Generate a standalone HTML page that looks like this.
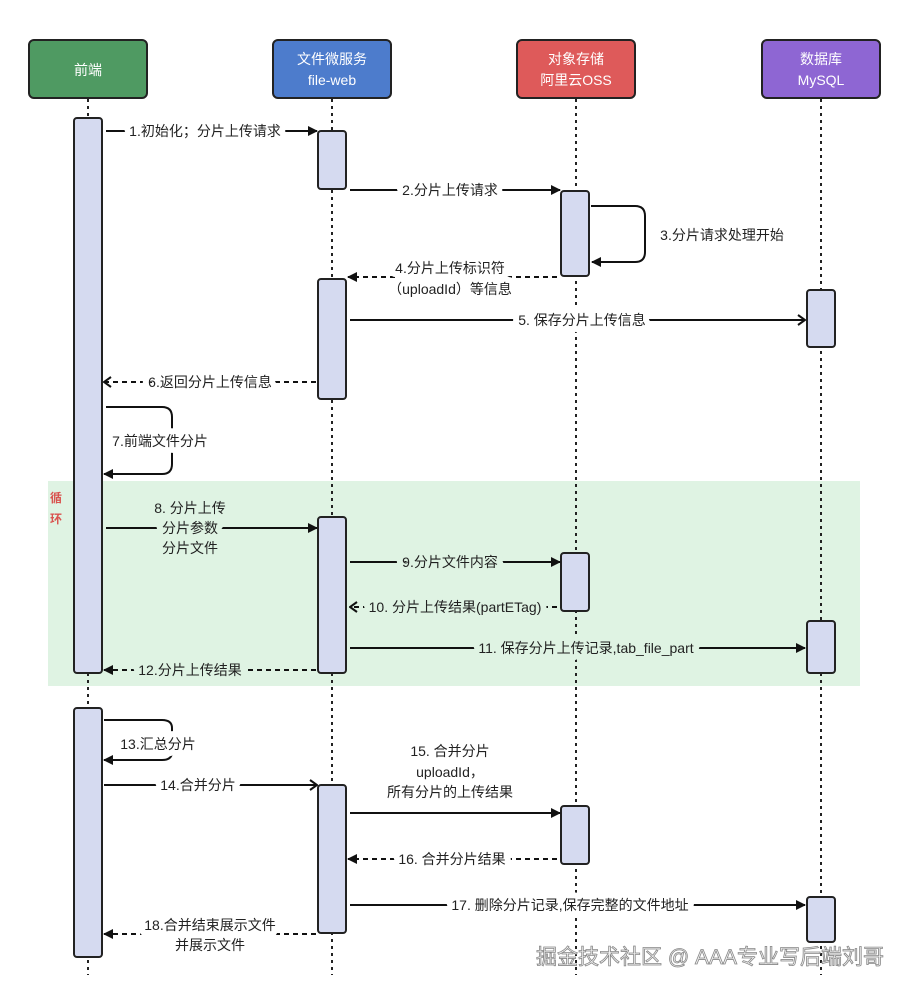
<!DOCTYPE html>
<html><head><meta charset="utf-8"><style>
html,body{margin:0;padding:0;background:#fff;}
svg{display:block;}
text{font-family:"Liberation Sans","Noto Sans CJK SC",sans-serif;font-size:14px;fill:#222;}
.lb{paint-order:stroke;stroke:#fff;stroke-width:12px;stroke-linejoin:round;}
.lg{paint-order:stroke;stroke:#dff3e3;stroke-width:12px;stroke-linejoin:round;}
.hd{fill:#fff;font-size:14px;}
</style></head><body>
<svg width="920" height="993" viewBox="0 0 920 993" xmlns="http://www.w3.org/2000/svg">
<defs>
<marker id="a" markerWidth="10" markerHeight="10" refX="9" refY="5" orient="auto" markerUnits="userSpaceOnUse"><path d="M0,0 L10,5 L0,10 Z" fill="#111"/></marker>
<marker id="o" markerWidth="10" markerHeight="12" refX="9" refY="6" orient="auto" markerUnits="userSpaceOnUse"><path d="M2,1 L9,6 L2,11" fill="none" stroke="#111" stroke-width="2"/></marker>
</defs>
<rect x="48" y="481" width="812" height="205" fill="#dff3e3"/>
<text x="50" y="502" style="fill:#d9534f;font-weight:bold;font-size:12px">循</text>
<text x="50" y="523" style="fill:#d9534f;font-weight:bold;font-size:12px">环</text>
<g stroke="#222" stroke-width="2" stroke-dasharray="3 4">
<line x1="88" y1="99" x2="88" y2="975"/><line x1="332" y1="99" x2="332" y2="975"/>
<line x1="576" y1="99" x2="576" y2="975"/><line x1="821" y1="99" x2="821" y2="975"/>
</g>
<g stroke="#222" stroke-width="2">
<rect x="29" y="40" width="118" height="58" rx="5" fill="#4f9a62"/>
<rect x="273" y="40" width="118" height="58" rx="5" fill="#4d7ccc"/>
<rect x="517" y="40" width="118" height="58" rx="5" fill="#de5a5a"/>
<rect x="762" y="40" width="118" height="58" rx="5" fill="#8e66d3"/>
</g>
<text class="hd" x="88" y="75" text-anchor="middle">前端</text>
<text class="hd" x="332" y="64" text-anchor="middle">文件微服务</text>
<text class="hd" x="332" y="85" text-anchor="middle">file-web</text>
<text class="hd" x="576" y="64" text-anchor="middle">对象存储</text>
<text class="hd" x="576" y="85" text-anchor="middle">阿里云OSS</text>
<text class="hd" x="821" y="64" text-anchor="middle">数据库</text>
<text class="hd" x="821" y="85" text-anchor="middle">MySQL</text>
<g stroke="#222" stroke-width="2" fill="#d5daf0">
<rect x="74" y="118" width="28" height="555" rx="3"/>
<rect x="74" y="708" width="28" height="249" rx="3"/>
<rect x="318" y="131" width="28" height="58" rx="3"/>
<rect x="318" y="279" width="28" height="120" rx="3"/>
<rect x="318" y="517" width="28" height="156" rx="3"/>
<rect x="318" y="785" width="28" height="148" rx="3"/>
<rect x="561" y="191" width="28" height="85" rx="3"/>
<rect x="561" y="553" width="28" height="58" rx="3"/>
<rect x="561" y="806" width="28" height="58" rx="3"/>
<rect x="807" y="290" width="28" height="57" rx="3"/>
<rect x="807" y="621" width="28" height="52" rx="3"/>
<rect x="807" y="897" width="28" height="45" rx="3"/>
</g>
<g stroke="#111" stroke-width="2" fill="none">
<line x1="106" y1="131" x2="317" y2="131" marker-end="url(#a)"/>
<line x1="350" y1="190" x2="560" y2="190" marker-end="url(#a)"/>
<path d="M591,206 H635 Q645,206 645,216 V252 Q645,262 635,262 H592" marker-end="url(#a)"/>
<line x1="557" y1="277" x2="348" y2="277" stroke-dasharray="5 4" marker-end="url(#a)"/>
<line x1="350" y1="320" x2="805" y2="320" marker-end="url(#o)"/>
<line x1="316" y1="382" x2="104" y2="382" stroke-dasharray="5 4" marker-end="url(#o)"/>
<path d="M106,407 H162 Q172,407 172,417 V464 Q172,474 162,474 H104" marker-end="url(#a)"/>
<line x1="106" y1="528" x2="317" y2="528" marker-end="url(#a)"/>
<line x1="350" y1="562" x2="560" y2="562" marker-end="url(#a)"/>
<line x1="557" y1="607" x2="350" y2="607" stroke-dasharray="5 4" marker-end="url(#o)"/>
<line x1="350" y1="648" x2="805" y2="648" marker-end="url(#a)"/>
<line x1="316" y1="670" x2="104" y2="670" stroke-dasharray="5 4" marker-end="url(#a)"/>
<path d="M104,720 H162 Q172,720 172,728 V752 Q172,760 162,760 H104" marker-end="url(#a)"/>
<line x1="104" y1="785" x2="317" y2="785" marker-end="url(#o)"/>
<line x1="350" y1="813" x2="560" y2="813" marker-end="url(#a)"/>
<line x1="557" y1="859" x2="348" y2="859" stroke-dasharray="5 4" marker-end="url(#a)"/>
<line x1="350" y1="905" x2="805" y2="905" marker-end="url(#a)"/>
<line x1="316" y1="934" x2="104" y2="934" stroke-dasharray="5 4" marker-end="url(#a)"/>
</g>
<g text-anchor="middle">
<text class="lb" x="205" y="136">1.初始化；分片上传请求</text>
<text class="lb" x="450" y="195">2.分片上传请求</text>
<text class="lb" x="722" y="240">3.分片请求处理开始</text>
<text class="lb" x="450" y="273">4.分片上传标识符</text>
<text class="lb" x="450" y="294">（uploadId）等信息</text>
<text class="lb" x="582" y="325">5. 保存分片上传信息</text>
<text class="lb" x="210" y="387">6.返回分片上传信息</text>
<text class="lb" x="160" y="446">7.前端文件分片</text>
<text class="lg" x="190" y="513">8. 分片上传</text>
<text class="lg" x="190" y="533">分片参数</text>
<text class="lg" x="190" y="553">分片文件</text>
<text class="lg" x="450" y="567">9.分片文件内容</text>
<text class="lg" x="455" y="612">10. 分片上传结果(partETag)</text>
<text class="lg" x="586" y="653">11. 保存分片上传记录,tab_file_part</text>
<text class="lg" x="190" y="675">12.分片上传结果</text>
<text class="lb" x="158" y="749">13.汇总分片</text>
<text class="lb" x="198" y="790">14.合并分片</text>
<text class="lb" x="450" y="756">15. 合并分片</text>
<text class="lb" x="450" y="777">uploadId，</text>
<text class="lb" x="450" y="797">所有分片的上传结果</text>
<text class="lb" x="452" y="864">16. 合并分片结果</text>
<text class="lb" x="570" y="910">17. 删除分片记录,保存完整的文件地址</text>
<text class="lb" x="210" y="930">18.合并结束展示文件</text>
<text class="lb" x="210" y="950">并展示文件</text>
</g>
<text x="536" y="964" style="font-size:21px;fill:#f2f2f2;stroke:#888;stroke-width:0.8px;">掘金技术社区 @ AAA专业写后端刘哥</text>
</svg>
</body></html>
